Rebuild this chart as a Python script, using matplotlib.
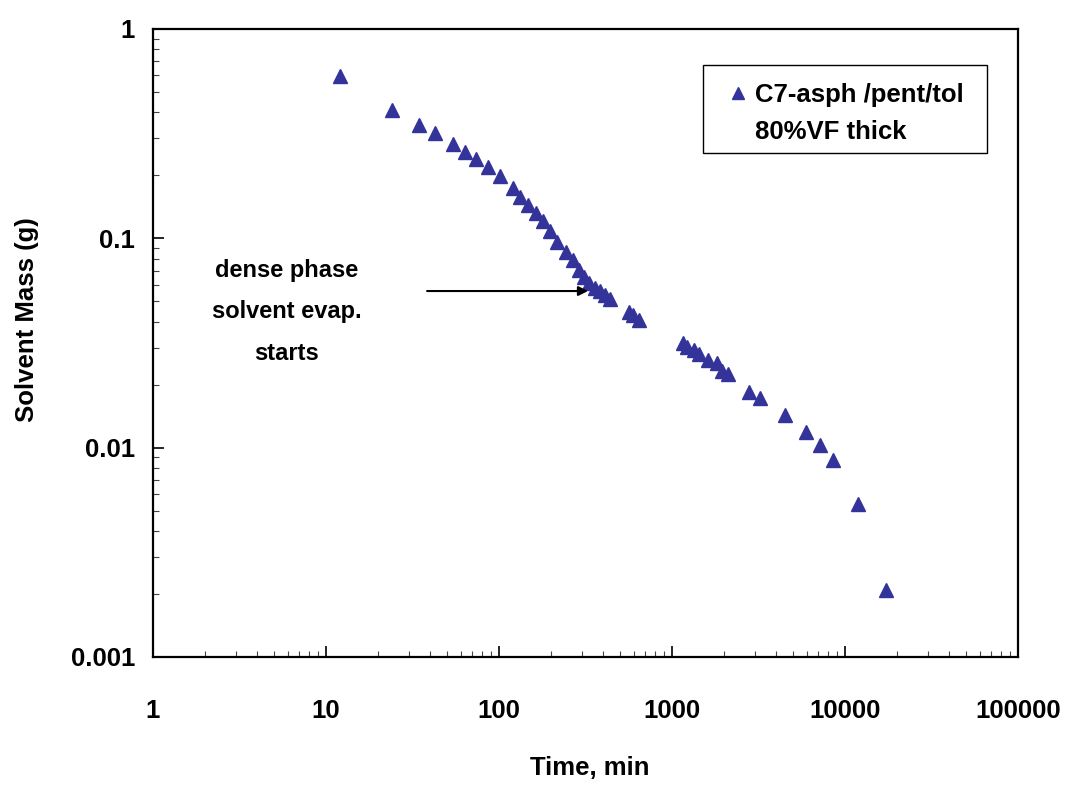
import matplotlib.pyplot as plt
from matplotlib.lines import Line2D
from matplotlib.patches import Rectangle
from matplotlib.ticker import FixedLocator, LogLocator, NullFormatter, FuncFormatter

plt.rcParams['font.family'] = ['Liberation Sans', 'DejaVu Sans']
plt.rcParams['font.weight'] = 'bold'
plt.rcParams['font.size'] = 18.5

# Time (min) and solvent mass (g)
time_min = [12.1, 24.2, 34.3, 42.5, 54.0, 63.3, 73.3, 86.8, 102, 120,
            132, 148, 163, 180, 197, 217, 245, 268, 291, 310,
            333, 359, 384, 410, 438, 564, 598, 645,
            1162, 1226, 1345, 1438, 1621, 1813, 1953, 2116,
            2798, 3226, 4500, 5975, 7198, 8489, 11840, 17330]
mass_g = [0.596, 0.410, 0.348, 0.3175, 0.282, 0.2576, 0.239, 0.2184, 0.1985, 0.1734,
          0.158, 0.1442, 0.1316, 0.1214, 0.1083, 0.0963, 0.086, 0.0787, 0.0706, 0.0655,
          0.061, 0.058, 0.0562, 0.0536, 0.0511, 0.0446, 0.043, 0.0407,
          0.0315, 0.0303, 0.0293, 0.028, 0.0262, 0.0253, 0.0233, 0.0225,
          0.0185, 0.0172, 0.0143, 0.0119, 0.0103, 0.00873, 0.00538, 0.0021]

x_ticks = [1, 10, 100, 1000, 10000, 100000]
y_ticks = [0.001, 0.01, 0.1, 1]

series_label = 'C7-asph /pent/tol'
series_label2 = '80%VF thick'
note_text = 'dense phase\nsolvent evap.\nstarts'
marker_color = '#333399'

fig = plt.figure(figsize=(10.66, 7.9), dpi=100)
ax = fig.add_axes([0.1435, 0.1684, 0.8115, 0.7949])

ax.plot(time_min, mass_g, linestyle='none', marker='^', markersize=9.5,
        color=marker_color, markeredgecolor=marker_color)

ax.set_xscale('log')
ax.set_yscale('log')
ax.set_xlim(1, 100000)
ax.set_ylim(0.001, 1)

fmt = FuncFormatter(lambda v, pos: '%g' % v)
ax.xaxis.set_major_locator(FixedLocator(x_ticks))
ax.yaxis.set_major_locator(FixedLocator(y_ticks))
ax.xaxis.set_major_formatter(fmt)
ax.yaxis.set_major_formatter(fmt)
ax.xaxis.set_minor_locator(LogLocator(base=10, subs=range(2, 10)))
ax.yaxis.set_minor_locator(LogLocator(base=10, subs=range(2, 10)))
ax.xaxis.set_minor_formatter(NullFormatter())
ax.yaxis.set_minor_formatter(NullFormatter())

ax.tick_params(which='both', direction='in', top=False, right=False)
ax.tick_params(which='major', length=8, width=1.2)
ax.tick_params(which='minor', length=4.5, width=0.8, color='#444444')
ax.tick_params(axis='x', which='major', pad=30)
ax.tick_params(axis='y', which='major', pad=13)
for sp in ax.spines.values():
    sp.set_linewidth(1.6)

ax.set_xlabel('Time, min', fontweight='bold')
ax.set_ylabel('Solvent Mass (g)', fontweight='bold')
ax.xaxis.set_label_coords(0.505, -0.158)
ax.yaxis.set_label_coords(-0.132, 0.537)

# annotation arrow and text
ax.annotate('', xy=(327, 0.056), xytext=(38.4, 0.056),
            arrowprops=dict(arrowstyle='-|>', color='black', lw=1.5,
                            mutation_scale=14, shrinkA=0, shrinkB=0))
ax.text(5.9, 0.0445, note_text, ha='center', va='center',
        multialignment='center', linespacing=2.05, fontsize=17, fontweight='bold')

# legend: drawn frame box plus frameless legend entries
ax.add_patch(Rectangle((0.6358, 0.8025), 0.3284, 0.1402, transform=ax.transAxes,
                       facecolor='white', edgecolor='black', linewidth=1.0, zorder=4))
handles = [Line2D([], [], linestyle='none', marker='^', markersize=9,
                  color=marker_color),
           Line2D([], [], linestyle='none', marker='none')]
leg = ax.legend(handles, [series_label, series_label2], loc='upper left',
                bbox_to_anchor=(0.6644, 0.914), borderaxespad=0, borderpad=0,
                frameon=False, handlelength=0.8, handletextpad=0.26,
                labelspacing=0.5, numpoints=1)
leg.set_zorder(5)

fig.savefig('out.png', dpi=100, facecolor='white')
